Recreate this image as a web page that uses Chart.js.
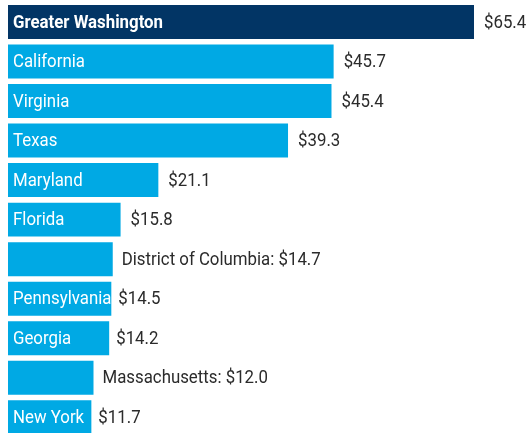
<!DOCTYPE html>
<html>
<head>
<meta charset="utf-8">
<script src="https://cdn.jsdelivr.net/npm/chart.js@4/dist/chart.umd.min.js"></script>
<style>
html,body{margin:0;padding:0;background:#fff;overflow:hidden;}
#wrap{width:532px;height:433px;overflow:hidden;}
</style>
</head>
<body>
<div id="wrap"><canvas id="c" width="532" height="437"></canvas></div>
<script>
const categories = ["Greater Washington","California","Virginia","Texas","Maryland","Florida","District of Columbia","Pennsylvania","Georgia","Massachusetts","New York"];
const values = [65.4,45.7,45.4,39.3,21.1,15.8,14.7,14.5,14.2,12.0,11.7];
const valueLabels = ["$65.4","$45.7","$45.4","$39.3","$21.1","$15.8","$14.7","$14.5","$14.2","$12.0","$11.7"];

const NAVY = "#023565";
const CYAN = "#00A9E4";
const FONT = 'Roboto, "Liberation Sans", sans-serif';
const SIZE = 18;

function drawText(ctx, text, x, y, sx) {
  ctx.save();
  ctx.translate(x, y);
  ctx.scale(sx, 1);
  ctx.fillText(text, 0, 0);
  ctx.restore();
}

const labelPlugin = {
  id: "barLabels",
  afterDatasetsDraw(chart) {
    const ctx = chart.ctx;
    const meta = chart.getDatasetMeta(0);
    ctx.save();
    ctx.textBaseline = "middle";
    ctx.textAlign = "left";
    ctx.font = SIZE + "px " + FONT;
    const sx = 199 / ctx.measureText("District of Columbia: $14.7").width;
    meta.data.forEach((bar, i) => {
      const left = bar.base;
      const right = bar.x;
      const y = bar.y + 1;
      const bold = i === 0;
      ctx.font = (bold ? "bold " : "") + SIZE + "px " + FONT;
      const w = ctx.measureText(categories[i]).width * sx;
      if (w + 2 <= right - left) {
        ctx.fillStyle = "#ffffff";
        drawText(ctx, categories[i], left + 5, y, sx);
        ctx.font = SIZE + "px " + FONT;
        ctx.fillStyle = "#2b2b2b";
        drawText(ctx, valueLabels[i], right + (right - left > 110 ? 10 : 7), y, sx);
      } else {
        ctx.font = SIZE + "px " + FONT;
        ctx.fillStyle = "#2b2b2b";
        drawText(ctx, categories[i] + ": " + valueLabels[i], right + 9, y, sx);
      }
    });
    ctx.restore();
  }
};

new Chart(document.getElementById("c"), {
  type: "bar",
  data: {
    labels: categories,
    datasets: [{
      data: values,
      backgroundColor: values.map((v, i) => i === 0 ? NAVY : CYAN),
      borderWidth: 0,
      categoryPercentage: 1,
      barPercentage: 0.86
    }]
  },
  options: {
    indexAxis: "y",
    responsive: false,
    animation: false,
    layout: { padding: { left: 8, top: 2.25, right: 0, bottom: 0 } },
    plugins: { legend: { display: false }, tooltip: { enabled: false } },
    scales: {
      x: { display: false, min: 0, max: 73.54 },
      y: { display: false }
    }
  },
  plugins: [labelPlugin]
});
</script>
</body>
</html>
